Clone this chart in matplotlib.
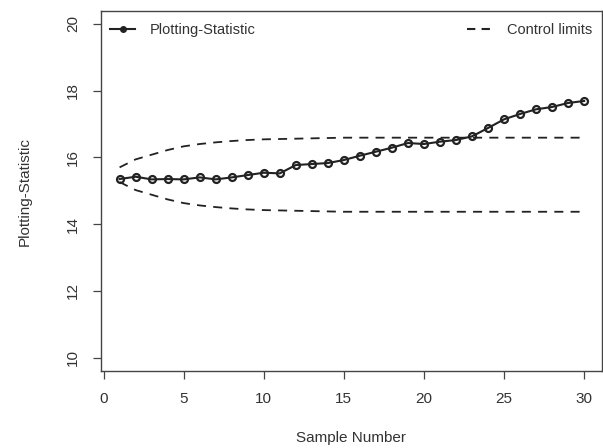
import matplotlib
matplotlib.use("Agg")
import matplotlib.pyplot as plt
from matplotlib.lines import Line2D
import numpy as np

plt.rcParams['font.family'] = ['Liberation Sans', 'DejaVu Sans']

# sample numbers and the plotted statistic
samples = np.arange(1, 31)
stat = [15.35, 15.42, 15.34, 15.35, 15.34, 15.40, 15.34, 15.40, 15.47, 15.54,
        15.52, 15.77, 15.80, 15.83, 15.92, 16.05, 16.17, 16.29, 16.43, 16.40,
        16.47, 16.52, 16.63, 16.88, 17.14, 17.30, 17.44, 17.51, 17.63, 17.69]

# control limits
ucl = [15.70, 15.94, 16.08, 16.22, 16.33, 16.40, 16.45, 16.49, 16.52, 16.54,
       16.55, 16.56, 16.57, 16.58, 16.59, 16.59, 16.59, 16.59, 16.59, 16.59,
       16.59, 16.59, 16.59, 16.59, 16.59, 16.59, 16.59, 16.59, 16.59, 16.59]
lcl = [15.26, 15.02, 14.88, 14.74, 14.63, 14.56, 14.51, 14.47, 14.44, 14.42,
       14.41, 14.40, 14.39, 14.38, 14.37, 14.37, 14.37, 14.37, 14.37, 14.37,
       14.37, 14.37, 14.37, 14.37, 14.37, 14.37, 14.37, 14.37, 14.37, 14.37]

xticks = [0, 5, 10, 15, 20, 25, 30]
yticks = [10, 12, 14, 16, 18, 20]

fig = plt.figure(figsize=(6.03, 4.48), dpi=100)
ax = fig.add_axes([0.1675, 0.172, 0.8305, 0.803])

ink = '#222222'
ax.plot(samples, ucl, ls=(0, (5, 4)), color=ink, lw=1.3)
ax.plot(samples, lcl, ls=(0, (5, 4)), color=ink, lw=1.3)
ax.plot(samples, stat, color=ink, lw=1.5, marker='o', ms=5,
        mfc='none', mec=ink, mew=1.6)

ax.set_xlim(-0.16, 31.1)
ax.set_ylim(9.6, 20.38)
ax.set_xticks(xticks)
ax.set_yticks(yticks)
ax.tick_params(axis='both', length=6, width=0.9, color='#444444',
               labelsize=11, labelcolor='#333333', pad=9)
for lab in ax.get_yticklabels():
    lab.set_rotation(90)
    lab.set_va('center')
for sp in ax.spines.values():
    sp.set_color('#444444')
    sp.set_linewidth(1.0)

ax.set_xlabel('Sample Number', fontsize=11, color='#333333', labelpad=18)
ax.set_ylabel('Plotting-Statistic', fontsize=11, color='#333333', labelpad=25)

h1 = Line2D([], [], color=ink, lw=1.5, marker='o', ms=4, mfc=ink, mec=ink)
h2 = Line2D([], [], color=ink, lw=1.5, ls=(0, (4, 3)))
leg_kw = dict(frameon=False, fontsize=10.5, handlelength=1.75,
              handletextpad=1.0, labelcolor='#333333', borderaxespad=0)
leg1 = ax.legend([h1], ['Plotting-Statistic'], loc='upper left',
                 bbox_to_anchor=(0.006, 0.984), **leg_kw)
ax.add_artist(leg1)
ax.legend([h2], ['Control limits'], loc='upper right',
          bbox_to_anchor=(0.992, 0.984), **leg_kw)

fig.savefig('out.png', dpi=100)
